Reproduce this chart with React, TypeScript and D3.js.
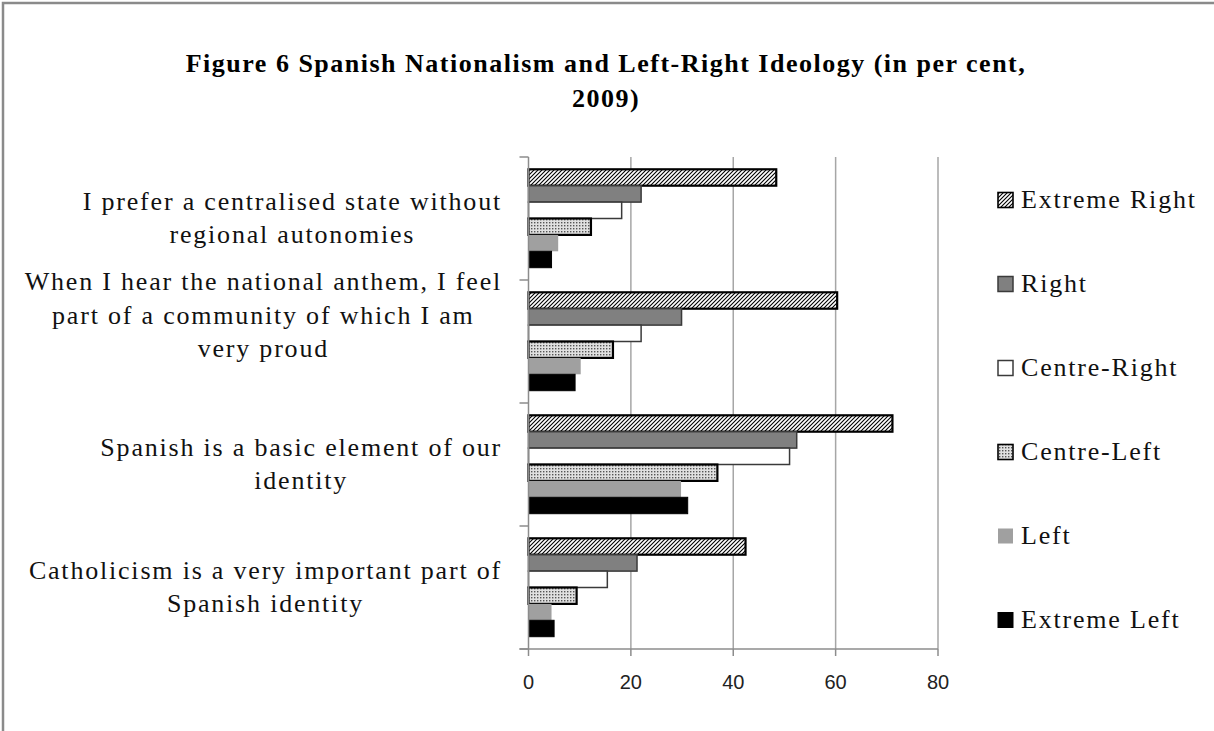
import React, { useEffect, useRef } from "react";
import * as d3 from "d3";

const titleLines = [
  "Figure 6 Spanish Nationalism and Left-Right Ideology (in per cent,",
  "2009)",
];
const categories = [
  ["I prefer a centralised state without", "regional autonomies"],
  ["When I hear the national anthem, I feel", "part of a community of which I am", "very proud"],
  ["Spanish is a basic element of our", "identity"],
  ["Catholicism is a very important part of", "Spanish identity"],
];
const seriesNames = ["Extreme Right", "Right", "Centre-Right", "Centre-Left", "Left", "Extreme Left"];
const extremeRight = [48.4, 60.3, 71.1, 42.4];
const right = [22.0, 29.9, 52.4, 21.2];
const centreRight = [18.2, 22.0, 51.0, 15.4];
const centreLeft = [12.2, 16.5, 36.9, 9.4];
const left = [5.8, 10.2, 29.8, 4.5];
const extremeLeft = [4.5, 9.1, 31.1, 5.0];
const seriesValues = [extremeRight, right, centreRight, centreLeft, left, extremeLeft];
const xTicks = [0, 20, 40, 60, 80];

const styles = [
  { fill: "url(#hatch)", stroke: "#000", sw: 2.2 },
  { fill: "#808080", stroke: "#3a3a3a", sw: 1.5 },
  { fill: "#ffffff", stroke: "#3a3a3a", sw: 1.5 },
  { fill: "url(#dots)", stroke: "#000", sw: 2.2 },
  { fill: "#a0a0a0", stroke: "none", sw: 0 },
  { fill: "#000000", stroke: "#000", sw: 1 },
];

const W = 1214, H = 731;
const SERIF = "'Liberation Serif', 'Times New Roman', serif";
const SANS = "'Liberation Sans', Arial, sans-serif";

export default function App() {
  const ref = useRef<SVGSVGElement>(null);
  useEffect(() => {
    const svg = d3.select(ref.current);
    svg.selectAll("*").remove();

    const defs = svg.append("defs");
    const hatch = defs.append("pattern").attr("id", "hatch").attr("patternUnits", "userSpaceOnUse")
      .attr("width", 4).attr("height", 4);
    hatch.append("rect").attr("width", 4).attr("height", 4).attr("fill", "#fff");
    hatch.append("path").attr("d", "M-1,1 L1,-1 M0,4 L4,0 M3,5 L5,3").attr("stroke", "#000").attr("stroke-width", 1.1);
    const dots = defs.append("pattern").attr("id", "dots").attr("patternUnits", "userSpaceOnUse")
      .attr("width", 3).attr("height", 3);
    dots.append("rect").attr("width", 3).attr("height", 3).attr("fill", "#e0e0e0");
    dots.append("rect").attr("width", 1.4).attr("height", 1.4).attr("fill", "#555");

    // frame (left and top)
    svg.append("path").attr("d", `M3,${H + 5} L3,3 L${W + 5},3`).attr("fill", "none")
      .attr("stroke", "#8a8a8a").attr("stroke-width", 2.5);

    // title
    titleLines.forEach((t, i) => {
      svg.append("text").attr("x", 606).attr("y", 72 + i * 35).attr("text-anchor", "middle")
        .attr("font-family", SERIF).attr("font-weight", "bold").attr("font-size", 26)
        .attr("letter-spacing", 1.5).attr("fill", "#000")
        .text(t);
    });

    const x0 = 528.5, x1 = 938;
    const yTop = 157, yBot = 649;
    const x = d3.scaleLinear().domain([0, 80]).range([x0, x1]);
    const y = d3.scaleBand<number>().domain(d3.range(categories.length)).range([yTop, yBot])
      .paddingInner(0.2).paddingOuter(0.1);
    const ys = d3.scaleBand<number>().domain(d3.range(seriesNames.length)).range([0, y.bandwidth()]);

    // gridlines
    svg.append("g").selectAll("line").data(xTicks.filter((d) => d > 0)).join("line")
      .attr("x1", (d) => x(d)).attr("x2", (d) => x(d)).attr("y1", yTop).attr("y2", yBot)
      .attr("stroke", "#a6a6a6").attr("stroke-width", 1.5);

    // bars
    seriesValues.forEach((vals, si) => {
      const st = styles[si];
      svg.append("g").selectAll("rect").data(vals).join("rect")
        .attr("x", x(0)).attr("y", (_, ci) => (y(ci) as number) + (ys(si) as number))
        .attr("width", (d) => x(d) - x(0)).attr("height", ys.bandwidth())
        .attr("fill", st.fill).attr("stroke", st.stroke).attr("stroke-width", st.sw);
    });

    // axes
    svg.append("line").attr("x1", x0).attr("x2", x0).attr("y1", yTop).attr("y2", yBot)
      .attr("stroke", "#8c8c8c").attr("stroke-width", 1.5);
    const step = y.step();
    const bounds = d3.range(categories.length + 1).map((i) => yTop + i * step);
    svg.append("g").selectAll("line").data(bounds).join("line")
      .attr("x1", x0 - 9).attr("x2", x0).attr("y1", (d) => d).attr("y2", (d) => d)
      .attr("stroke", "#8c8c8c").attr("stroke-width", 1.5);
    svg.append("line").attr("x1", x0 - 9).attr("x2", x1).attr("y1", yBot).attr("y2", yBot)
      .attr("stroke", "#8c8c8c").attr("stroke-width", 1.5);
    svg.append("g").selectAll("line").data(xTicks).join("line")
      .attr("x1", (d) => x(d)).attr("x2", (d) => x(d)).attr("y1", yBot).attr("y2", yBot + 7)
      .attr("stroke", "#8c8c8c").attr("stroke-width", 1.5);
    svg.append("g").selectAll("text").data(xTicks).join("text")
      .attr("x", (d) => x(d)).attr("y", yBot + 40).attr("text-anchor", "middle")
      .attr("font-family", SANS).attr("font-size", 20).attr("fill", "#222").text((d) => d);

    // category labels
    const lh = 33.5;
    const rightEdge = 502;
    categories.forEach((lines, ci) => {
      const g = svg.append("g");
      const cy = (y(ci) as number) + y.bandwidth() / 2 - (lines.length > 2 ? 26 : 0);
      const texts = lines.map((l, li) =>
        g.append("text").attr("y", cy + (li - (lines.length - 1) / 2) * lh + 8)
          .attr("text-anchor", "middle").attr("font-family", SERIF).attr("font-size", 26)
          .attr("letter-spacing", 1.8).attr("fill", "#111").text(l)
      );
      const maxW = d3.max(texts, (t) => (t.node() as SVGTextElement).getComputedTextLength()) || 0;
      texts.forEach((t) => t.attr("x", rightEdge - maxW / 2));
    });

    // legend
    seriesNames.forEach((name, si) => {
      const cy = 200 + si * 84;
      const st = styles[si];
      svg.append("rect").attr("x", 998).attr("y", cy - 7.5).attr("width", 15).attr("height", 15)
        .attr("fill", st.fill).attr("stroke", st.stroke === "none" ? "none" : st.stroke)
        .attr("stroke-width", st.sw ? Math.min(st.sw, 1.6) : 0);
      svg.append("text").attr("x", 1021).attr("y", cy + 8).attr("font-family", SERIF)
        .attr("font-size", 26).attr("letter-spacing", 1.8).attr("fill", "#111").text(name);
    });
  }, []);
  return (
    <svg ref={ref} width={W} height={H}
      style={{ position: "absolute", left: 0, top: 0, background: "#fff" }} />
  );
}
